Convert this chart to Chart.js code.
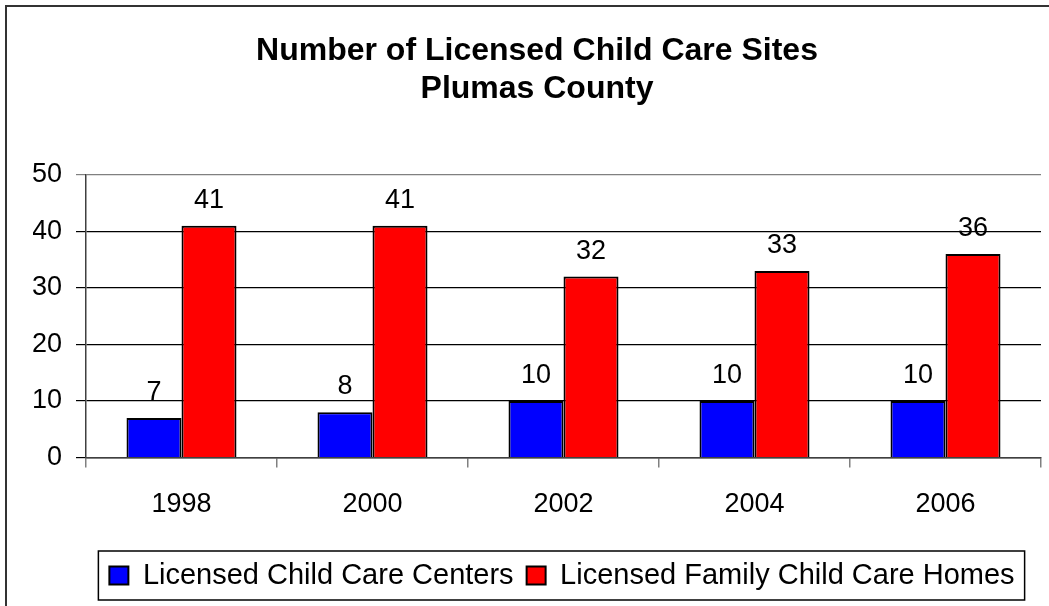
<!DOCTYPE html>
<html>
<head>
<meta charset="utf-8">
<script src="https://cdn.jsdelivr.net/npm/chart.js@4.4.0/dist/chart.umd.min.js"></script>
<style>
  html, body { margin: 0; padding: 0; background: #fff; }
  #wrap { width: 1049px; height: 606px; }
</style>
</head>
<body>
<div id="wrap"><canvas id="sitesChart" width="1049" height="606"></canvas></div>
<script>
// --- Data ---
const years = ['1998', '2000', '2002', '2004', '2006'];
const centers = [7, 8, 10, 10, 10];
const familyHomes = [41, 41, 32, 33, 36];
const titleLines = ['Number of Licensed Child Care Sites', 'Plumas County'];

const FONT = "'Liberation Sans', Arial, sans-serif";

// --- Plugins ---
// value labels above each bar
const barValues = {
  id: 'barValues',
  afterDatasetsDraw(chart) {
    const ctx = chart.ctx;
    ctx.save();
    ctx.font = '27px ' + FONT;
    ctx.fillStyle = '#000';
    ctx.textAlign = 'center';
    ctx.textBaseline = 'alphabetic';
    chart.data.datasets.forEach((ds, i) => {
      chart.getDatasetMeta(i).data.forEach((bar, j) => {
        ctx.fillText(String(ds.data[j]), bar.x, bar.y - 18);
      });
    });
    ctx.restore();
  }
};

// outer frame, legend shift and legend box
const frame = {
  id: 'frame',
  afterLayout(chart) {
    // legend is centred on the plot area, title on the page
    chart.legend.left += 25;
    chart.legend.right += 25;
  },
  afterDraw(chart) {
    const ctx = chart.ctx;
    ctx.save();
    ctx.strokeStyle = '#333';
    ctx.lineWidth = 2;
    ctx.strokeRect(6, 6, 1200, 800);

    const boxes = chart.legend.legendHitBoxes;
    if (boxes && boxes.length) {
      const first = boxes[0], last = boxes[boxes.length - 1];
      const left = first.left - 11;
      const right = last.left + last.width + 10;
      const mid = first.top + first.height / 2;
      ctx.strokeStyle = '#000';
      ctx.lineWidth = 1.5;
      ctx.strokeRect(left, mid - 24.5, right - left, 49);
    }
    ctx.restore();
  }
};

// --- Chart ---
const ctx = document.getElementById('sitesChart').getContext('2d');
const chart = new Chart(ctx, {
  type: 'bar',
  data: {
    labels: years,
    datasets: [
      { label: 'Licensed Child Care Centers', data: centers,
        backgroundColor: '#0000ff', borderColor: '#000', borderWidth: 2 },
      { label: 'Licensed Family Child Care Homes', data: familyHomes,
        backgroundColor: '#ff0000', borderColor: '#000', borderWidth: 2 }
    ]
  },
  options: {
    responsive: false,
    animation: false,
    layout: { padding: { left: 33, right: 8, top: 0, bottom: 6 } },
    datasets: { bar: { categoryPercentage: 0.576, barPercentage: 1.0 } },
    scales: {
      x: {
        afterFit(scale) { scale.height += 6; },
        grid: {
          offset: true,
          drawOnChartArea: true,
          color: c => c.index === years.length ? '#808080' : 'rgba(0,0,0,0)',
          tickColor: '#808080',
          tickLength: 10,
          lineWidth: 1.5
        },
        border: { color: '#404040', width: 1.5 },
        ticks: { font: { family: FONT, size: 27 }, color: '#000', padding: 21 }
      },
      y: {
        min: 0, max: 50,
        afterFit(scale) { scale.width = 53; },
        grid: {
          color: c => c.tick && c.tick.value === 50 ? '#808080' : '#000',
          tickLength: 10,
          lineWidth: 1.2
        },
        border: { color: '#404040', width: 1.5 },
        ticks: { stepSize: 10, font: { family: FONT, size: 27 }, color: '#000', padding: 14 }
      }
    },
    plugins: {
      title: {
        display: true,
        text: titleLines,
        color: '#000',
        font: { family: FONT, size: 32, weight: 'bold', lineHeight: 1.2 },
        padding: { top: 32, bottom: 66 }
      },
      legend: {
        position: 'bottom',
        labels: {
          font: { family: FONT, size: 29 },
          color: '#000',
          boxWidth: 19,
          boxHeight: 18,
          padding: 13
        }
      },
      tooltip: { enabled: false }
    }
  },
  plugins: [barValues, frame]
});
</script>
</body>
</html>
